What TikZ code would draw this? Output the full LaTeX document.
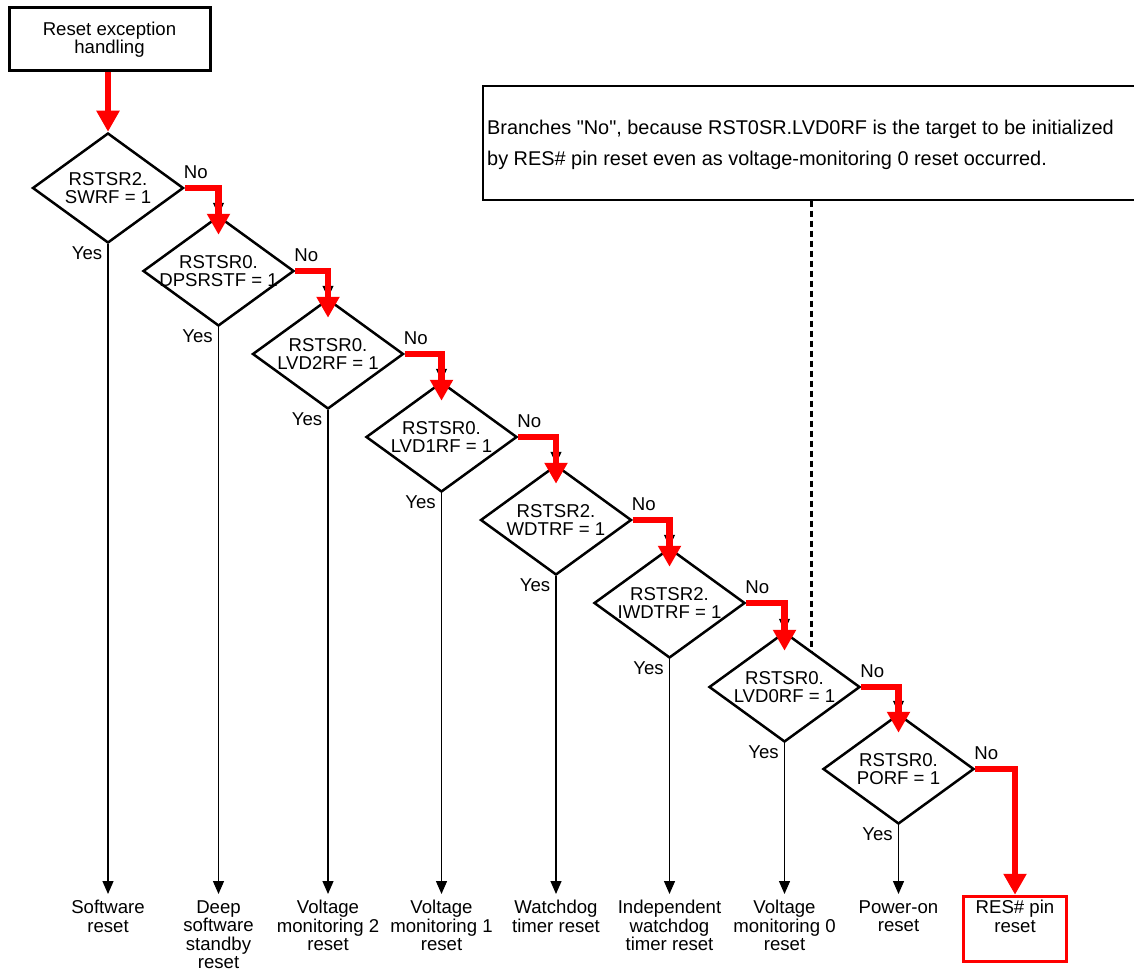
\documentclass[tikz,border=0pt]{standalone}
\usepackage{fontspec}
\setmainfont{Liberation Sans}
\usetikzlibrary{shapes.geometric,arrows.meta}
\begin{document}
\begin{tikzpicture}[x=1pt,y=-1pt,
  dshape/.style={draw, line width=2.5pt, shape=diamond, minimum width=151pt, minimum height=110pt, inner sep=0pt},
  txt/.style={font=\fontsize{18.6}{18.6}\selectfont, align=center, inner sep=0pt},
  lbl/.style={txt, anchor=north},
  yesno/.style={font=\fontsize{18.6}{19}\selectfont, inner sep=0pt},
  redflow/.style={draw=red, line width=6.5pt, -{Triangle[width=22pt,length=21pt]}},
  redstep/.style={redflow, shorten >=-20pt},
  blkunder/.style={draw=black, line width=1.3pt, -{Triangle[width=11pt,length=12pt]}},
  blkflow/.style={draw=black, line width=1.3pt, -{Triangle[width=11pt,length=13pt]}, shorten >=6pt},
  notestyle/.style={draw, line width=1.2pt, minimum width=660pt, minimum height=114pt, inner sep=0pt},
  dots/.style={draw, line width=3pt, dash pattern=on 6pt off 4pt}
]
\useasboundingbox (0,0) rectangle (1134,971);

% start box
\node[draw, line width=3pt, minimum width=201pt, minimum height=63pt, txt] (start) at (109.5,39.5) {Reset exception\\handling};

% note
\node[notestyle] (note) at (813,143) {};
\node[anchor=west, align=left, inner sep=0pt, font=\fontsize{19.9}{31}\selectfont] (notetxt) at (487,145) {Branches \textquotedbl No\textquotedbl, because RST0SR.LVD0RF is the target to be initialized\\by RES\# pin reset even as voltage-monitoring 0 reset occurred.};

% diamonds
\node[dshape] (d1) at (108,188) {};
\node[dshape] (d2) at (218.5,271) {};
\node[dshape] (d3) at (328,354) {};
\node[dshape] (d4) at (441.5,437) {};
\node[dshape] (d5) at (556,520) {};
\node[dshape] (d6) at (669.5,603) {};
\node[dshape] (d7) at (784.5,687) {};
\node[dshape] (d8) at (898.5,769) {};

\node[txt] (t1) at (d1) {RSTSR2.\\SWRF = 1};
\node[txt] (t2) at (d2) {RSTSR0.\\DPSRSTF = 1};
\node[txt] (t3) at (d3) {RSTSR0.\\LVD2RF = 1};
\node[txt] (t4) at (d4) {RSTSR0.\\LVD1RF = 1};
\node[txt] (t5) at (d5) {RSTSR2.\\WDTRF = 1};
\node[txt] (t6) at (d6) {RSTSR2.\\IWDTRF = 1};
\node[txt] (t7) at (d7) {RSTSR0.\\LVD0RF = 1};
\node[txt] (t8) at (d8) {RSTSR0.\\PORF = 1};

% No / Yes labels
\foreach \d in {d1,d2,d3,d4,d5,d6,d7,d8}{
  \node[yesno] (no-\d) at ([shift={(11pt,16pt)}]\d.east) {No};
  \node[yesno] (yes-\d) at ([shift={(-21pt,-9pt)}]\d.south) {Yes};
}

% results
\node[lbl] (r1) at (108,900) {Software\\reset};
\node[lbl] (r2) at (218.5,900) {Deep\\software\\standby\\reset};
\node[lbl] (r3) at (328,900) {Voltage\\monitoring 2\\reset};
\node[lbl] (r4) at (441.5,900) {Voltage\\monitoring 1\\reset};
\node[lbl] (r5) at (556,900) {Watchdog\\timer reset};
\node[lbl] (r6) at (669.5,900) {Independent\\watchdog\\timer reset};
\node[lbl] (r7) at (784.5,900) {Voltage\\monitoring 0\\reset};
\node[lbl] (r8) at (898.5,900) {Power-on\\reset};
\node[draw=red, line width=3pt, minimum width=103pt, minimum height=65.5pt, inner sep=0pt] (rb) at (1015,929) {};
\node[lbl] (r9) at (1015,900) {RES\# pin\\reset};

% yes arrows
\draw[blkflow] (d1.south) -- (r1.north);
\draw[blkflow] (d2.south) -- (r2.north);
\draw[blkflow] (d3.south) -- (r3.north);
\draw[blkflow] (d4.south) -- (r4.north);
\draw[blkflow] (d5.south) -- (r5.north);
\draw[blkflow] (d6.south) -- (r6.north);
\draw[blkflow] (d7.south) -- (r7.north);
\draw[blkflow] (d8.south) -- (r8.north);

% dotted
\coordinate (dotend) at (811,651);
\draw[dots] (note.south -| dotend) -- (dotend);

% thin black connectors under the red flow
\draw[blkunder] (d1.east) -| (d2.north);
\draw[blkunder] (d2.east) -| (d3.north);
\draw[blkunder] (d3.east) -| (d4.north);
\draw[blkunder] (d4.east) -| (d5.north);
\draw[blkunder] (d5.east) -| (d6.north);
\draw[blkunder] (d6.east) -| (d7.north);
\draw[blkunder] (d7.east) -| (d8.north);

% red flow
\draw[redflow] (start.south -| d1.north) -- (d1.north);
\draw[redstep] (d1.east) -| (d2.north);
\draw[redstep] (d2.east) -| (d3.north);
\draw[redstep] (d3.east) -| (d4.north);
\draw[redstep] (d4.east) -| (d5.north);
\draw[redstep] (d5.east) -| (d6.north);
\draw[redstep] (d6.east) -| (d7.north);
\draw[redstep] (d7.east) -| (d8.north);
\draw[redflow] (d8.east) -| (rb.north);
\end{tikzpicture}
\end{document}
